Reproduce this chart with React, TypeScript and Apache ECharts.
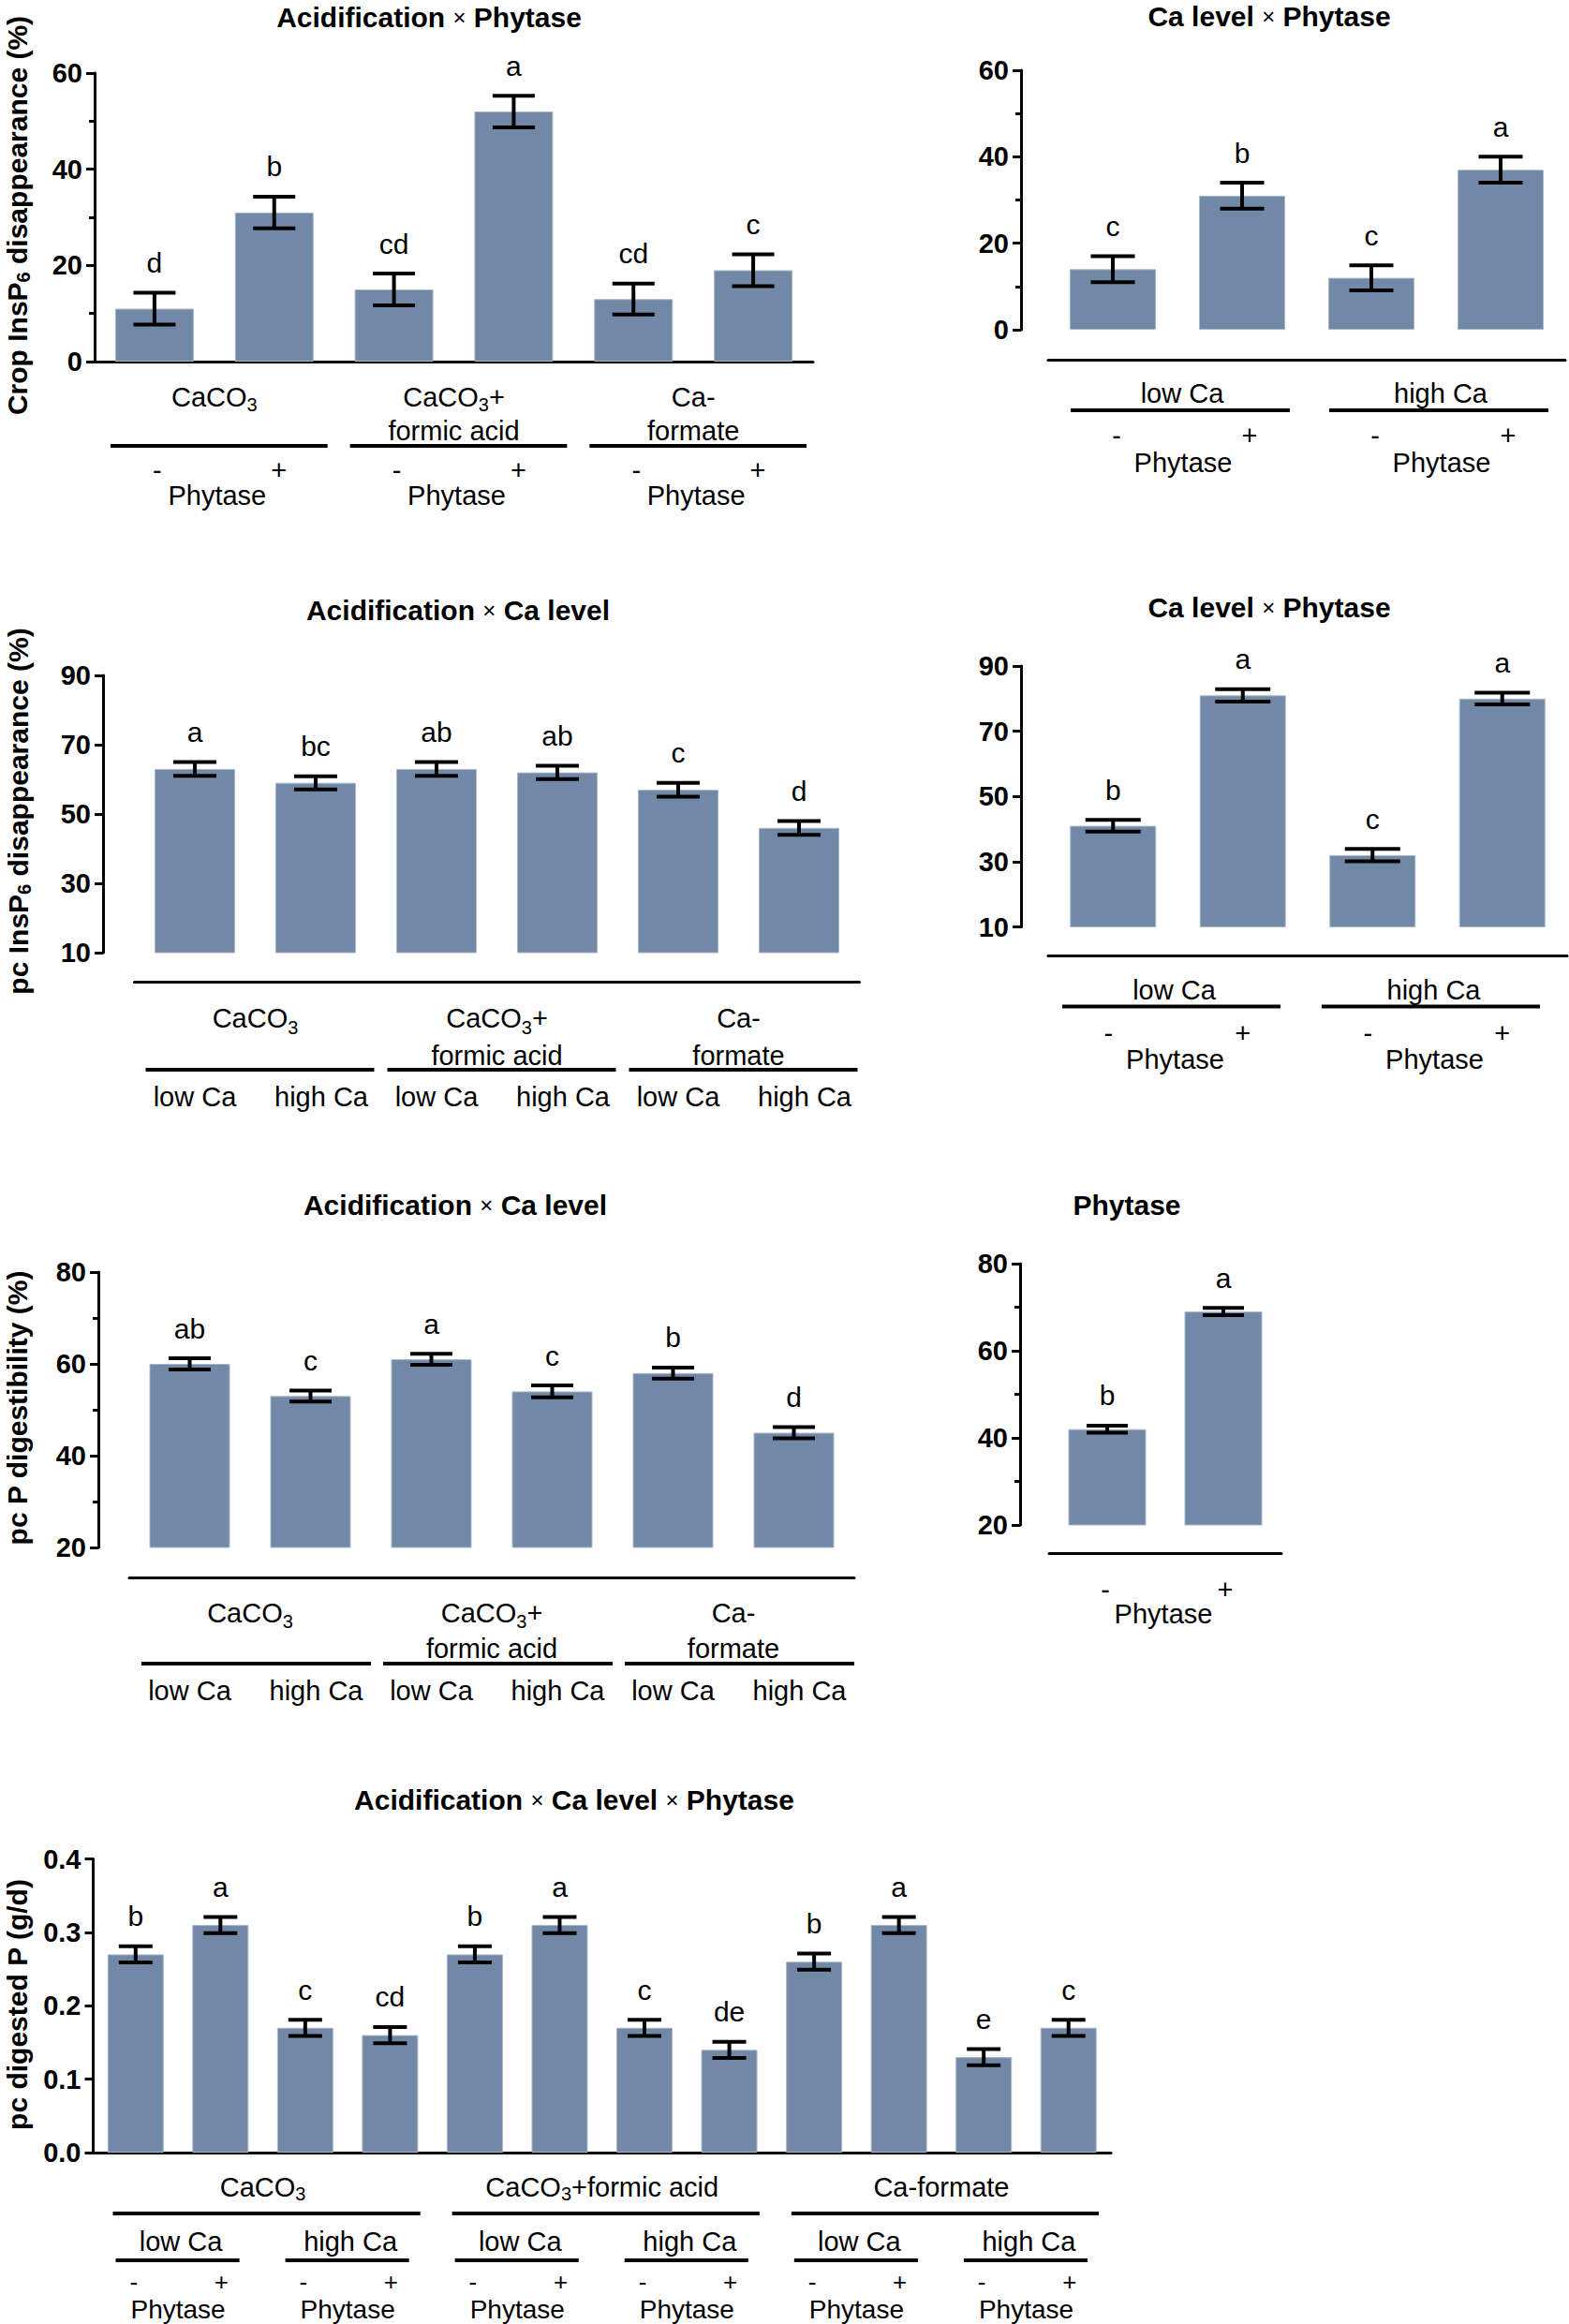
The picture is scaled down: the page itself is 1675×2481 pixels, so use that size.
import React, { useEffect, useRef } from "react";
import * as echarts from "echarts";

const FONT = '"Liberation Sans", Arial, Helvetica, sans-serif';
const BAR_COLOR = "#7189a6";
const BAR_EDGE = "#a9b7ca";
const INK = "#000000";

// ---------- Panel A: Crop InsP6 disappearance, Acidification x Phytase ----------
const cropAcidCategories = ["CaCO3 / -", "CaCO3 / +", "CaCO3+formic acid / -", "CaCO3+formic acid / +", "Ca-formate / -", "Ca-formate / +"];
const cropAcidValues = [11, 31, 15, 52, 13, 19];
const cropAcidErrors = [3.3, 3.3, 3.3, 3.3, 3.2, 3.3];
const cropAcidLetters = ["d", "b", "cd", "a", "cd", "c"];
const cropAcidTicks = [0, 20, 40, 60];

// ---------- Panel B: Crop InsP6 disappearance, Ca level x Phytase ----------
const cropCaCategories = ["low Ca / -", "low Ca / +", "high Ca / -", "high Ca / +"];
const cropCaValues = [14, 31, 12, 37];
const cropCaErrors = [3, 3, 2.9, 3];
const cropCaLetters = ["c", "b", "c", "a"];
const cropCaTicks = [0, 20, 40, 60];

// ---------- Panel C: pc InsP6 disappearance, Acidification x Ca level ----------
const pcInsAcidCategories = ["CaCO3 / low Ca", "CaCO3 / high Ca", "CaCO3+formic acid / low Ca", "CaCO3+formic acid / high Ca", "Ca-formate / low Ca", "Ca-formate / high Ca"];
const pcInsAcidValues = [63, 59, 63, 62, 57, 46];
const pcInsAcidErrors = [2, 1.9, 2, 1.95, 2, 2];
const pcInsAcidLetters = ["a", "bc", "ab", "ab", "c", "d"];
const pcInsAcidTicks = [10, 30, 50, 70, 90];

// ---------- Panel D: pc InsP6 disappearance, Ca level x Phytase ----------
const pcInsCaCategories = ["low Ca / -", "low Ca / +", "high Ca / -", "high Ca / +"];
const pcInsCaValues = [41, 81, 32, 80];
const pcInsCaErrors = [1.8, 1.9, 1.9, 1.8];
const pcInsCaLetters = ["b", "a", "c", "a"];
const pcInsCaTicks = [10, 30, 50, 70, 90];

// ---------- Panel E: pc P digestibility, Acidification x Ca level ----------
const pcDigAcidCategories = ["CaCO3 / low Ca", "CaCO3 / high Ca", "CaCO3+formic acid / low Ca", "CaCO3+formic acid / high Ca", "Ca-formate / low Ca", "Ca-formate / high Ca"];
const pcDigAcidValues = [60, 53, 61, 54, 58, 45];
const pcDigAcidErrors = [1.2, 1.2, 1.2, 1.3, 1.2, 1.2];
const pcDigAcidLetters = ["ab", "c", "a", "c", "b", "d"];
const pcDigAcidTicks = [20, 40, 60, 80];

// ---------- Panel F: pc P digestibility, Phytase ----------
const pcDigPhyCategories = ["-", "+"];
const pcDigPhyValues = [42, 69];
const pcDigPhyErrors = [0.8, 0.85];
const pcDigPhyLetters = ["b", "a"];
const pcDigPhyTicks = [20, 40, 60, 80];

// ---------- Panel G: pc digested P, Acidification x Ca level x Phytase ----------
const digPCategories = [
  "CaCO3 / low Ca / -", "CaCO3 / low Ca / +", "CaCO3 / high Ca / -", "CaCO3 / high Ca / +",
  "CaCO3+formic acid / low Ca / -", "CaCO3+formic acid / low Ca / +", "CaCO3+formic acid / high Ca / -", "CaCO3+formic acid / high Ca / +",
  "Ca-formate / low Ca / -", "Ca-formate / low Ca / +", "Ca-formate / high Ca / -", "Ca-formate / high Ca / +",
];
const digPValues = [0.27, 0.31, 0.17, 0.16, 0.27, 0.31, 0.17, 0.14, 0.26, 0.31, 0.13, 0.17];
const digPErrors = [0.011, 0.011, 0.011, 0.011, 0.011, 0.011, 0.011, 0.011, 0.011, 0.011, 0.011, 0.011];
const digPLetters = ["b", "a", "c", "cd", "b", "a", "c", "de", "b", "a", "e", "c"];
const digPTicks = [0, 0.1, 0.2, 0.3, 0.4];

// ---------- label texts ----------
const acidLabelsStacked = ["CaCO{s|3}", "CaCO{s|3}+\nformic acid", "Ca-\nformate"];
const acidLabelsInline = ["CaCO{s|3}", "CaCO{s|3}+formic acid", "Ca-formate"];
const caLevelLabels = ["low Ca", "high Ca"];
const phytaseLevelLabels = ["-", "+"];
const phytaseLabel = "Phytase";

const titleAcidPhy = "Acidification {x|×} Phytase";
const titleCaPhy = "Ca level {x|×} Phytase";
const titleAcidCa = "Acidification {x|×} Ca level";
const titlePhy = "Phytase";
const titleAll = "Acidification {x|×} Ca level {x|×} Phytase";

const yNameCrop = "Crop InsP{s|6} disappearance (%)";
const yNamePcIns = "pc InsP{s|6} disappearance (%)";
const yNamePcDig = "pc P digestibility (%)";
const yNameDigP = "pc digested P (g/d)";

const TITLE_SIZE = 30;
const TICK_SIZE = 29;
const LABEL_SIZE = 29;
const LETTER_SIZE = 30;
const YNAME_SIZE = 30;

// ---------- layout helpers ----------
type TextItem = { from: number; to: number; text: string; dx: number };
type Row =
  | { kind: "text"; dy: number; lineHeight?: number; fontSize?: number; items: TextItem[] }
  | { kind: "line"; dy: number; spans: [number, number][]; inset: [number, number] };

function groupsOf(n: number, size: number): [number, number][] {
  const out: [number, number][] = [];
  for (let i = 0; i < n; i += size) out.push([i, i + size - 1]);
  return out;
}
function groupText(n: number, size: number, texts: string[], dx: number): TextItem[] {
  return groupsOf(n, size).map(([a, b], g) => ({ from: a, to: b, text: texts[g % texts.length], dx }));
}
function barText(n: number, texts: string[], dxs: number[]): TextItem[] {
  const out: TextItem[] = [];
  for (let i = 0; i < n; i++) out.push({ from: i, to: i, text: texts[i % texts.length], dx: dxs[i % dxs.length] });
  return out;
}

type Panel = {
  categories: string[];
  values: number[];
  errors: number[];
  letters: string[];
  ticks: number[];
  minor: boolean;
  decimals: number;
  left: number; top: number; width: number; height: number;
  xOff: number; yOff: number;
  barWidth: number; cap: number;
  title: string; titleX: number; titleY: number;
  yName?: string; yNameX?: number; yNameY?: number;
  rows: Row[];
};

const panels: Panel[] = [
  {
    categories: cropAcidCategories, values: cropAcidValues, errors: cropAcidErrors, letters: cropAcidLetters,
    ticks: cropAcidTicks, minor: true, decimals: 0,
    left: 101, top: 78, width: 767, height: 308, xOff: 0, yOff: 0, barWidth: 84, cap: 45,
    title: titleAcidPhy, titleX: 458, titleY: 18,
    yName: yNameCrop, yNameX: 18, yNameY: 230,
    rows: [
      { kind: "text", dy: 38, lineHeight: 36, items: groupText(6, 2, acidLabelsStacked, 0) },
      { kind: "line", dy: 90, spans: groupsOf(6, 2), inset: [17, 7] },
      { kind: "text", dy: 116, lineHeight: 24, items: barText(6, phytaseLevelLabels, [3, 5]) },
      { kind: "text", dy: 143, lineHeight: 28, items: groupText(6, 2, [phytaseLabel], 3) },
    ],
  },
  {
    categories: cropCaCategories, values: cropCaValues, errors: cropCaErrors, letters: cropCaLetters,
    ticks: cropCaTicks, minor: true, decimals: 0,
    left: 1119, top: 75, width: 552, height: 277, xOff: 32, yOff: 29, barWidth: 92, cap: 47,
    title: titleCaPhy, titleX: 1355, titleY: 17,
    rows: [
      { kind: "text", dy: 36, items: groupText(4, 2, caLevelLabels, 5) },
      { kind: "line", dy: 54, spans: groupsOf(4, 2), inset: [24, 18] },
      { kind: "text", dy: 81, lineHeight: 24, items: barText(4, phytaseLevelLabels, [4, 8]) },
      { kind: "text", dy: 110, lineHeight: 28, items: groupText(4, 2, [phytaseLabel], 6) },
    ],
  },
  {
    categories: pcInsAcidCategories, values: pcInsAcidValues, errors: pcInsAcidErrors, letters: pcInsAcidLetters,
    ticks: pcInsAcidTicks, minor: false, decimals: 0,
    left: 143.5, top: 721, width: 774, height: 296, xOff: 31, yOff: 33.5, barWidth: 86, cap: 46,
    title: titleAcidCa, titleX: 489, titleY: 651,
    yName: yNamePcIns, yNameX: 19, yNameY: 866,
    rows: [
      { kind: "text", dy: 39, lineHeight: 40, items: groupText(6, 2, acidLabelsStacked, 0) },
      { kind: "line", dy: 94, spans: groupsOf(6, 2), inset: [12, 2] },
      { kind: "text", dy: 123, items: barText(6, caLevelLabels, [0, 6]) },
    ],
  },
  {
    categories: pcInsCaCategories, values: pcInsCaValues, errors: pcInsCaErrors, letters: pcInsCaLetters,
    ticks: pcInsCaTicks, minor: false, decimals: 0,
    left: 1119, top: 711, width: 554, height: 278.5, xOff: 31, yOff: 29, barWidth: 92, cap: 59,
    title: titleCaPhy, titleX: 1355, titleY: 648,
    rows: [
      { kind: "text", dy: 36.5, items: groupText(4, 2, caLevelLabels, -4) },
      { kind: "line", dy: 54, spans: groupsOf(4, 2), inset: [15, 29] },
      { kind: "text", dy: 82, lineHeight: 24, items: barText(4, phytaseLevelLabels, [-5, 0]) },
      { kind: "text", dy: 110, lineHeight: 28, items: groupText(4, 2, [phytaseLabel], -3) },
    ],
  },
  {
    categories: pcDigAcidCategories, values: pcDigAcidValues, errors: pcDigAcidErrors, letters: pcDigAcidLetters,
    ticks: pcDigAcidTicks, minor: true, decimals: 0,
    left: 138, top: 1358, width: 774, height: 294, xOff: 32, yOff: 33, barWidth: 86, cap: 45,
    title: titleAcidCa, titleX: 486, titleY: 1286,
    yName: yNamePcDig, yNameX: 18, yNameY: 1503,
    rows: [
      { kind: "text", dy: 38, lineHeight: 38, items: groupText(6, 2, acidLabelsStacked, 0) },
      { kind: "line", dy: 92, spans: groupsOf(6, 2), inset: [13, 0] },
      { kind: "text", dy: 121, items: barText(6, caLevelLabels, [0, 6]) },
    ],
  },
  {
    categories: pcDigPhyCategories, values: pcDigPhyValues, errors: pcDigPhyErrors, letters: pcDigPhyLetters,
    ticks: pcDigPhyTicks, minor: true, decimals: 0,
    left: 1120, top: 1349, width: 248, height: 279, xOff: 30, yOff: 31, barWidth: 83, cap: 44,
    title: titlePhy, titleX: 1203, titleY: 1286,
    rows: [
      { kind: "text", dy: 39, lineHeight: 24, items: barText(2, phytaseLevelLabels, [-2, 2]) },
      { kind: "text", dy: 65, lineHeight: 28, items: groupText(2, 2, [phytaseLabel], -2) },
    ],
  },
  {
    categories: digPCategories, values: digPValues, errors: digPErrors, letters: digPLetters,
    ticks: digPTicks, minor: false, decimals: 1,
    left: 99.5, top: 1984.5, width: 1086.5, height: 313.5, xOff: 0, yOff: 0, barWidth: 60, cap: 36,
    title: titleAll, titleX: 613, titleY: 1921,
    yName: yNameDigP, yNameX: 18, yNameY: 2140,
    rows: [
      { kind: "text", dy: 37, items: groupText(12, 4, acidLabelsInline, 0) },
      { kind: "line", dy: 65, spans: groupsOf(12, 4), inset: [21, 13] },
      { kind: "text", dy: 95, lineHeight: 30, items: groupText(12, 2, caLevelLabels, 3) },
      { kind: "line", dy: 115, spans: groupsOf(12, 2), inset: [24, 25] },
      { kind: "text", dy: 138, lineHeight: 22, fontSize: 26, items: barText(12, phytaseLevelLabels, [-2, 1]) },
      { kind: "text", dy: 167, lineHeight: 26, fontSize: 28, items: groupText(12, 2, [phytaseLabel], 0) },
    ],
  },
];

function richFor(size: number, weight: string) {
  return {
    s: { fontSize: Math.round(size * 0.68), lineHeight: 18, verticalAlign: "bottom", fontFamily: FONT, fontWeight: weight, fill: INK },
    x: { fontSize: Math.round(size * 0.8), fontFamily: FONT, fontWeight: "normal", fill: INK },
  };
}

function buildOption() {
  const grid: any[] = [];
  const xAxis: any[] = [];
  const yAxis: any[] = [];
  const series: any[] = [];
  const graphic: any[] = [];

  panels.forEach((p, k) => {
    grid.push({ left: p.left, top: p.top, width: p.width, height: p.height });
    xAxis.push({
      type: "category", gridIndex: k, data: p.categories, position: "bottom", offset: p.xOff, boundaryGap: true,
      axisLine: { show: true, onZero: false, lineStyle: { color: INK, width: 3 } },
      axisTick: { show: false }, axisLabel: { show: false }, splitLine: { show: false },
    });
    const step = p.ticks[1] - p.ticks[0];
    yAxis.push({
      type: "value", gridIndex: k, position: "left", offset: p.yOff,
      min: p.ticks[0], max: p.ticks[p.ticks.length - 1], interval: step,
      axisLine: { show: true, onZero: false, lineStyle: { color: INK, width: 3 } },
      axisTick: { show: true, length: 9, customValues: p.ticks, lineStyle: { color: INK, width: 3 } },
      minorTick: { show: p.minor, splitNumber: 2, length: 6, lineStyle: { color: INK, width: 3 } },
      axisLabel: {
        customValues: p.ticks, margin: 13, color: INK, fontFamily: FONT, fontWeight: "bold", fontSize: TICK_SIZE,
        formatter: (v: number) => v.toFixed(p.decimals),
      },
      splitLine: { show: false }, minorSplitLine: { show: false },
    });
    series.push({
      type: "bar", xAxisIndex: k, yAxisIndex: k, data: p.values, barWidth: p.barWidth, clip: true, silent: true,
      itemStyle: { color: BAR_COLOR, borderColor: BAR_EDGE, borderWidth: 1 },
    });
    const half = p.cap / 2;
    const letters = p.letters;
    series.push({
      type: "custom", xAxisIndex: k, yAxisIndex: k, clip: false, silent: true, z: 5,
      data: p.values.map((v, i) => [i, v, p.errors[i]]),
      renderItem: (params: any, api: any) => {
        const i = api.value(0);
        const v = api.value(1);
        const e = api.value(2);
        const hi = api.coord([i, v + e]);
        const lo = api.coord([i, v - e]);
        const x = hi[0];
        const ls = { stroke: INK, lineWidth: 4 };
        return {
          type: "group",
          children: [
            { type: "line", shape: { x1: x, y1: hi[1], x2: x, y2: lo[1] }, style: ls },
            { type: "line", shape: { x1: x - half, y1: hi[1], x2: x + half, y2: hi[1] }, style: ls },
            { type: "line", shape: { x1: x - half, y1: lo[1], x2: x + half, y2: lo[1] }, style: ls },
            {
              type: "text", x, y: hi[1] - 32,
              style: { text: letters[params.dataIndex], fill: INK, fontSize: LETTER_SIZE, fontFamily: FONT, align: "center", verticalAlign: "middle" },
            },
          ],
        };
      },
    });

    // title
    graphic.push({
      type: "text", x: p.titleX, y: p.titleY, silent: true,
      style: {
        text: p.title, fill: INK, fontSize: TITLE_SIZE, fontWeight: "bold", fontFamily: FONT, lineHeight: 32,
        align: "center", verticalAlign: "middle", rich: richFor(TITLE_SIZE, "bold"),
      },
    });
    // y axis name
    if (p.yName) {
      graphic.push({
        type: "text", x: p.yNameX, y: p.yNameY, rotation: Math.PI / 2, silent: true,
        style: {
          text: p.yName, fill: INK, fontSize: YNAME_SIZE, fontWeight: "bold", fontFamily: FONT, lineHeight: 34,
          align: "center", verticalAlign: "middle", rich: richFor(YNAME_SIZE, "bold"),
        },
      });
    }
    // hierarchical category labels
    const n = p.categories.length;
    const bandW = p.width / n;
    const center = (i: number) => p.left + (i + 0.5) * bandW;
    const axisY = p.top + p.height + p.xOff;
    p.rows.forEach((row) => {
      if (row.kind === "line") {
        row.spans.forEach(([a, b]) => {
          graphic.push({
            type: "line", silent: true,
            shape: { x1: p.left + a * bandW + row.inset[0], y1: axisY + row.dy, x2: p.left + (b + 1) * bandW - row.inset[1], y2: axisY + row.dy },
            style: { stroke: INK, lineWidth: 4 },
          });
        });
      } else {
        const lh = row.lineHeight || 34;
        const fs = row.fontSize || LABEL_SIZE;
        row.items.forEach((it) => {
          graphic.push({
            type: "text", silent: true,
            x: (center(it.from) + center(it.to)) / 2 + it.dx,
            y: axisY + row.dy - lh / 2,
            style: {
              text: it.text, fill: INK, fontSize: fs, fontFamily: FONT, lineHeight: lh,
              align: "center", verticalAlign: "top", rich: richFor(fs, "normal"),
            },
          });
        });
      }
    });
  });

  return { animation: false, backgroundColor: "#ffffff", grid, xAxis, yAxis, series, graphic };
}

export default function App() {
  const ref = useRef<HTMLDivElement>(null);
  useEffect(() => {
    document.body.style.margin = "0";
    if (!ref.current) return;
    const chart = echarts.init(ref.current, undefined, { renderer: "svg" });
    chart.setOption(buildOption() as any);
    return () => chart.dispose();
  }, []);
  return (
    <div
      ref={ref}
      style={{ position: "absolute", left: 0, top: 0, width: 1675, height: 2481, background: "#ffffff" }}
    />
  );
}
